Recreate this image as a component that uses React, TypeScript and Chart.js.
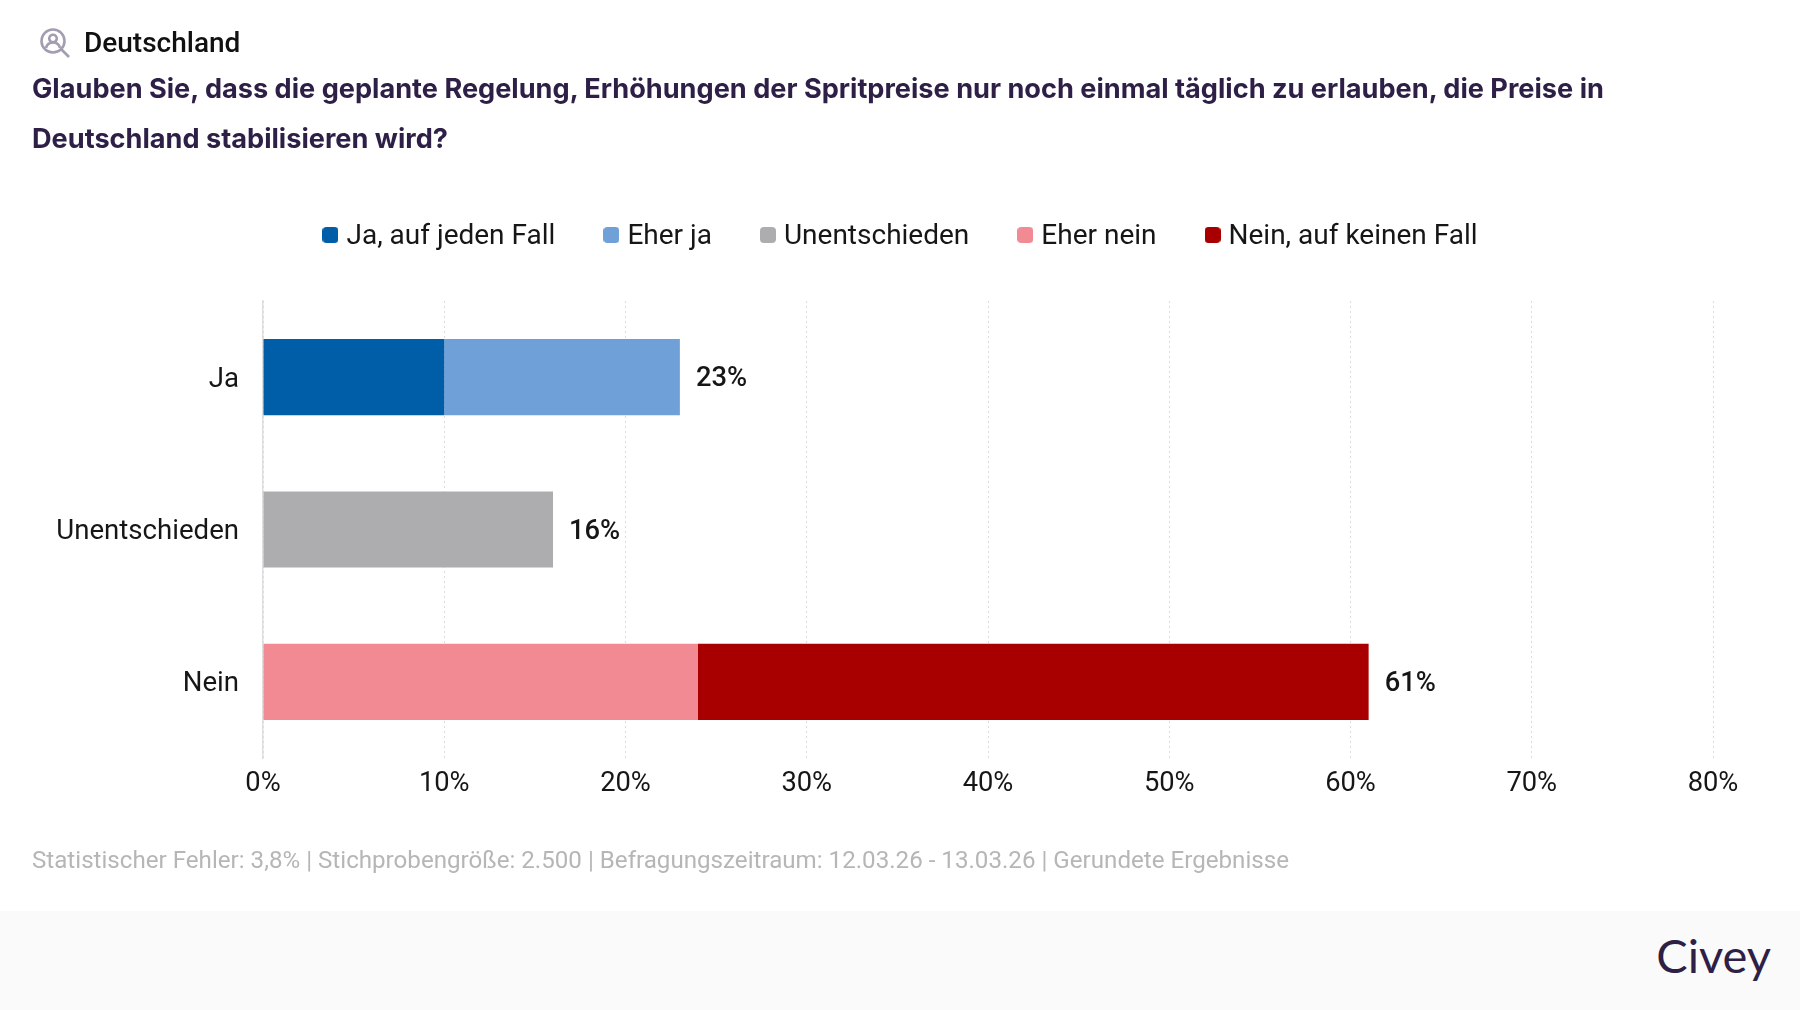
import React, { useEffect, useRef } from "react";
import { Chart, registerables } from "chart.js";

Chart.register(...registerables);

const categories = ["Ja", "Unentschieden", "Nein"];
const seriesNames = ["Ja, auf jeden Fall", "Eher ja", "Unentschieden", "Eher nein", "Nein, auf keinen Fall"];
const jaAufJedenFall = [10, null, null];
const eherJa = [13, null, null];
const unentschieden = [null, 16, null];
const eherNein = [null, null, 24];
const neinAufKeinenFall = [null, null, 37];
const seriesColors = ["#005ea8", "#6fa1d8", "#adadaf", "#f28a94", "#a80000"];
const heading = "Deutschland";
const titleLines = [
  "Glauben Sie, dass die geplante Regelung, Erhöhungen der Spritpreise nur noch einmal täglich zu erlauben, die Preise in",
  "Deutschland stabilisieren wird?",
];
const footnote = "Statistischer Fehler: 3,8% | Stichprobengröße: 2.500 | Befragungszeitraum: 12.03.26 - 13.03.26 | Gerundete Ergebnisse";
const brand = "Civey";

function swatch(color: string) {
  const c = document.createElement("canvas");
  c.width = 16;
  c.height = 20;
  const g = c.getContext("2d")!;
  g.fillStyle = color;
  g.beginPath();
  g.roundRect(0, 0, 16, 16, 4);
  g.fill();
  return c;
}

const totalLabels = {
  id: "totalLabels",
  afterDatasetsDraw(chart: any) {
    const { ctx, scales } = chart;
    ctx.save();
    ctx.font = "500 27.3px Roboto";
    ctx.fillStyle = "#161616";
    ctx.textBaseline = "middle";
    ctx.textAlign = "left";
    categories.forEach((_, i) => {
      const total = chart.data.datasets.reduce((s: number, d: any) => s + (d.data[i] || 0), 0);
      ctx.fillText(total + "%", scales.x.getPixelForValue(total) + 16, scales.y.getPixelForValue(i) + 2.5);
    });
    ctx.restore();
  },
};

export default function App() {
  const ref = useRef<HTMLCanvasElement>(null);
  useEffect(() => {
    const values = [jaAufJedenFall, eherJa, unentschieden, eherNein, neinAufKeinenFall];
    const swatches = seriesColors.map(swatch);
    const chart = new Chart(ref.current!, {
      type: "bar",
      data: {
        labels: categories,
        datasets: values.map((data, i) => ({
          label: seriesNames[i],
          data,
          backgroundColor: seriesColors[i],
          stack: "s",
          xAxisID: "x",
          yAxisID: "y",
          barPercentage: 0.5,
          categoryPercentage: 1,
        })),
      },
      options: {
        indexAxis: "y",
        responsive: false,
        animation: false,
        devicePixelRatio: 1,
        layout: { padding: { top: 169, left: 6, right: 0, bottom: 193 } },
        plugins: {
          tooltip: { enabled: false },
          legend: {
            position: "top",
            align: "center",
            labels: {
              usePointStyle: true,
              pointStyleWidth: 4,
              boxHeight: 16,
              padding: 54,
              color: "#161616",
              font: { family: "Roboto", size: 28 },
              generateLabels: (c: any) =>
                c.data.datasets.map((d: any, i: number) => ({
                  text: d.label,
                  datasetIndex: i,
                  fontColor: "#161616",
                  fillStyle: seriesColors[i],
                  strokeStyle: seriesColors[i],
                  lineWidth: 0,
                  pointStyle: swatches[i],
                })),
            },
          },
        },
        scales: {
          x: {
            type: "linear",
            stacked: true,
            min: 0,
            max: 80,
            afterFit: (s: any) => { s.height = 59; },
            ticks: {
              stepSize: 10,
              callback: (v: any) => v + "%",
              color: "#161616",
              font: { family: "Roboto", size: 27.3 },
              maxRotation: 0,
              padding: 10,
            },
            border: { display: false, dash: [2, 3] },
            grid: { color: "#dcdcdc", lineWidth: 1, drawTicks: false },
          },
          topGap: {
            type: "linear",
            axis: "x",
            position: "top",
            afterFit: (s: any) => { s.height = 40; },
            ticks: { display: false },
            border: { display: false },
            grid: { display: false, drawTicks: false },
          },
          rightGap: {
            type: "linear",
            axis: "y",
            position: "right",
            afterFit: (s: any) => { s.width = 87; },
            ticks: { display: false },
            border: { display: false },
            grid: { display: false, drawTicks: false },
          },
          y: {
            type: "category",
            stacked: true,
            afterFit: (s: any) => { s.width = 257; },
            ticks: {
              color: "#161616",
              font: { family: "Roboto", size: 27.6 },
              padding: 24,
              labelOffset: 2.5,
            },
            border: { display: true, color: "#dedede", width: 1.5 },
            grid: { display: false, drawTicks: false },
          },
        },
      } as any,
      plugins: [totalLabels],
    });
    return () => chart.destroy();
  }, []);

  return (
    <div style={{ position: "absolute", left: 0, top: 0, width: 1800, height: 1010, overflow: "hidden", background: "#fff" }}>
      <canvas ref={ref} width={1800} height={1010} style={{ position: "absolute", left: 0, top: 0, width: 1800, height: 1010 }} />
      <svg width="32" height="32" viewBox="0 0 32 32" style={{ position: "absolute", left: 39, top: 27 }} fill="none" stroke="#a49cb0" strokeWidth="2.6">
        <circle cx="14" cy="14" r="11.5" />
        <circle cx="14" cy="11.5" r="3.8" />
        <path d="M7 21c1-4 4-5.5 7-5.5s6 1.5 7 5.5" />
        <path d="M22.5 22.5L30 30" />
      </svg>
      <div style={{ position: "absolute", left: 84, top: 27, font: "500 28px/32px Roboto", color: "#111" }}>{heading}</div>
      {titleLines.map((t, i) => (
        <div key={i} style={{ position: "absolute", left: 32, top: 71 + i * 49.5, whiteSpace: "nowrap", font: "700 27.15px/36px Inter", color: "#2e1f47" }}>{t}</div>
      ))}
      <div style={{ position: "absolute", left: 32, top: 844, whiteSpace: "nowrap", font: "400 24.15px/32px Roboto", color: "#b6b6b6" }}>{footnote}</div>
      <div style={{ position: "absolute", left: 0, top: 911, width: 1800, height: 99, background: "#fafafa" }} />
      <div style={{ position: "absolute", right: 29, top: 925, font: "400 47px/60px Lato", color: "#2e1f47" }}>{brand}</div>
    </div>
  );
}
